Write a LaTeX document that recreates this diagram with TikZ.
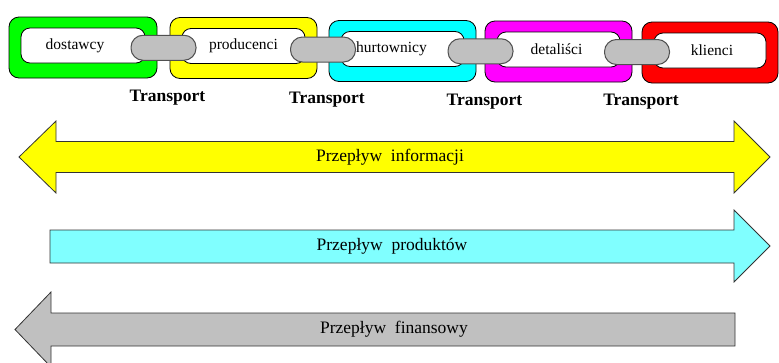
\documentclass[tikz,border=0pt]{standalone}
\usepackage{fontspec}
\setmainfont{Liberation Serif}
\newfontfamily\timesfont{Liberation Serif}
\usetikzlibrary{calc}
\definecolor{linkgreen}{RGB}{0,255,0}
\definecolor{linkyellow}{RGB}{255,255,0}
\definecolor{linkcyan}{RGB}{0,255,255}
\definecolor{linkmagenta}{RGB}{255,0,255}
\definecolor{linkred}{RGB}{255,0,0}
\definecolor{lightcyan}{RGB}{128,255,255}
\definecolor{silver}{RGB}{192,192,192}
\definecolor{jointedge}{RGB}{80,80,80}

\begin{document}
\begin{tikzpicture}[x=1pt, y=-1pt]
	\tikzstyle{link}=[draw=black, line width=0.8pt, rounded corners=10pt, minimum height=61pt, inner sep=0pt]
	\tikzstyle{hole}=[draw=black, fill=white, line width=0.8pt, rounded corners=9pt, minimum height=35pt, inner sep=0pt]
	\tikzstyle{joint}=[draw=jointedge, fill=silver, line width=1pt, rounded corners=12pt, minimum width=65pt, minimum height=25pt, inner sep=0pt]
	\tikzstyle{linktext}=[font=\timesfont\fontsize{15.5}{18}\selectfont, inner sep=0pt]
	\tikzstyle{transport}=[font=\timesfont\fontsize{17.5}{20}\selectfont\bfseries, inner sep=0pt]
	\tikzstyle{flow}=[draw=black!80, line width=0.8pt]
	\tikzstyle{flowtext}=[font=\timesfont\fontsize{17.5}{20}\selectfont, inner sep=0pt]
	\useasboundingbox (0,0) rectangle (779,362);
	% Links of the chain
	\foreach \i/\x/\y/\w/\c/\t/\dx in {1/83/47.5/148/linkgreen/dostawcy/-8, 2/243.5/48/147/linkyellow/producenci/0, 3/402.5/51/147/linkcyan/hurtownicy/-11, 4/558.5/51.5/147/linkmagenta/detaliści/-2, 5/710/52.5/136/linkred/klienci/2} {
		\node at (\x,\y) [link, fill=\c, minimum width=\w pt] (link_\i) {};
		\node at (\x,\y-2) [hole, minimum width=\w pt-24pt] (hole_\i) {};
		\node at (\x+\dx,\y-2) [linktext] (name_\i) {\t};
	}
	% Joints + transport
	\foreach \i/\j in {1/2, 2/3, 3/4, 4/5} {
		\node at ($(link_\i.east)!0.5!(link_\j.west)$) [joint] (joint_\i) {};
		\node at ($(joint_\i)+(4,50)$) [transport] (transport_\i) {Transport};
	}
	%---------------------%
	% Information (both ways)
	\filldraw[flow, fill=linkyellow] (19,157) -- (56,121) -- (56,141.5) -- (734,141.5) -- (734,121) -- (770,157)
		-- (734,193) -- (734,172.5) -- (56,172.5) -- (56,193) -- cycle;
	\node at (390,157) [flowtext] (info) {Przepływ~~informacji};
	% Products
	\filldraw[flow, fill=lightcyan] (50,230) -- (734,230) -- (734,210) -- (770,246) -- (734,282) -- (734,263) -- (50,263) -- cycle;
	\node at (392,246) [flowtext] (products) {Przepływ~~produktów};
	% Money
	\filldraw[flow, fill=silver] (15,329.5) -- (51,292) -- (51,313) -- (735,313) -- (735,346) -- (51,346) -- (51,367) -- cycle;
	\node at (394,329) [flowtext] (money) {Przepływ~~finansowy};
	%---------------------%
\end{tikzpicture}
\end{document}
